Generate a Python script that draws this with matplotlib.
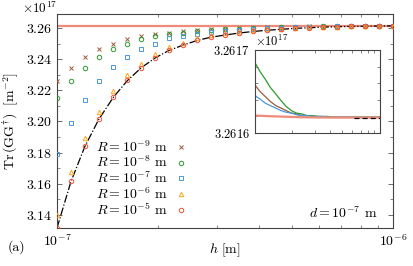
import numpy as np
import matplotlib
matplotlib.use("Agg")
import matplotlib.pyplot as plt
from matplotlib.ticker import ScalarFormatter, MultipleLocator, LogLocator, NullFormatter

plt.rcParams["font.family"] = "serif"
plt.rcParams["font.serif"] = ["cmr10"]
plt.rcParams["mathtext.fontset"] = "cm"
plt.rcParams["axes.formatter.use_mathtext"] = True
plt.rcParams["axes.unicode_minus"] = False

scale = 1e17

# h grid [m]
h = np.array([1.00, 1.10, 1.21, 1.33, 1.47, 1.62, 1.78, 1.96, 2.15, 2.37, 2.61, 2.87, 3.16,
              3.48, 3.83, 4.22, 4.64, 5.11, 5.62, 6.19, 6.81, 7.50, 8.25, 9.09, 10.0]) * 1e-7

# Tr(GG^dagger) in units of 1e17 m^-2
r_9 = [3.2261, 3.2347, 3.2415, 3.2465, 3.2501, 3.2529, 3.2550, 3.2566, 3.2572, 3.2583, 3.2589, 3.2593, 3.2598,
       3.2602, 3.2605, 3.2608, 3.2610, 3.2612, 3.2613, 3.2614, 3.2615, 3.2615, 3.2616, 3.2616, 3.2616]
r_8 = [3.2154, 3.2261, 3.2347, 3.2415, 3.2465, 3.2501, 3.2529, 3.2550, 3.2561, 3.2572, 3.2583, 3.2587, 3.2593,
       3.2598, 3.2602, 3.2605, 3.2608, 3.2610, 3.2612, 3.2613, 3.2614, 3.2615, 3.2615, 3.2616, 3.2616]
r_7 = [3.1788, 3.1990, 3.2141, 3.2261, 3.2353, 3.2418, 3.2469, 3.2501, 3.2536, 3.2551, 3.2566, 3.2579, 3.2586,
       3.2592, 3.2597, 3.2601, 3.2605, 3.2608, 3.2610, 3.2612, 3.2613, 3.2614, 3.2615, 3.2615, 3.2616]
r_6 = [3.1400, 3.1674, 3.1893, 3.2063, 3.2196, 3.2299, 3.2373, 3.2432, 3.2480, 3.2508, 3.2540, 3.2557, 3.2569,
       3.2579, 3.2587, 3.2593, 3.2598, 3.2603, 3.2606, 3.2609, 3.2612, 3.2613, 3.2614, 3.2615, 3.2616]
r_5 = [3.1316, 3.1615, 3.1840, 3.2014, 3.2157, 3.2265, 3.2347, 3.2411, 3.2458, 3.2493, 3.2523, 3.2544, 3.2558,
       3.2571, 3.2581, 3.2588, 3.2594, 3.2600, 3.2604, 3.2608, 3.2611, 3.2613, 3.2614, 3.2615, 3.2616]
plane = [3.1314, 3.1612, 3.1838, 3.2012, 3.2155, 3.2264, 3.2346, 3.2410, 3.2457, 3.2492, 3.2522, 3.2543, 3.2557,
         3.2570, 3.2580, 3.2588, 3.2594, 3.2600, 3.2604, 3.2608, 3.2611, 3.2613, 3.2614, 3.2615, 3.2616]
asym = 3.261619

# inset curves
in_9 = [3.261658, 3.261650, 3.261644, 3.261638, 3.261633, 3.261630, 3.261627, 3.261624, 3.261623, 3.261621,
        3.261621, 3.261620, 3.261620, 3.261619, 3.261619, 3.261619, 3.261619, 3.261619, 3.261619, 3.261619,
        3.261619, 3.261619, 3.261619, 3.261619, 3.261619]
in_8 = [3.261685, 3.261674, 3.261665, 3.261655, 3.261647, 3.261639, 3.261632, 3.261627, 3.261624, 3.261623,
        3.261621, 3.261621, 3.261620, 3.261620, 3.261620, 3.261619, 3.261619, 3.261619, 3.261619, 3.261619,
        3.261619, 3.261619, 3.261619, 3.261619, 3.261619]
in_7 = [3.261645, 3.261641, 3.261636, 3.261633, 3.261630, 3.261627, 3.261625, 3.261624, 3.261622, 3.261621,
        3.261621, 3.261620, 3.261620, 3.261620, 3.261619, 3.261619, 3.261619, 3.261619, 3.261619, 3.261619,
        3.261619, 3.261619, 3.261619, 3.261619, 3.261619]
in_5 = [3.2616210, 3.2616208, 3.2616205, 3.2616202, 3.2616200, 3.2616198, 3.2616196, 3.2616194, 3.2616192,
        3.2616190, 3.2616189, 3.2616188, 3.2616187, 3.2616187, 3.2616186, 3.2616186, 3.2616186, 3.2616186,
        3.2616186, 3.2616186, 3.2616186, 3.2616186, 3.2616186, 3.2616186, 3.2616186]
in_plane = [np.nan] * 19 + [3.2616185, 3.2616185, 3.2616185, 3.2616185, 3.2616185, 3.2616185]

labels = [r"$R=10^{-9}$ m", r"$R=10^{-8}$ m", r"$R=10^{-7}$ m", r"$R=10^{-6}$ m", r"$R=10^{-5}$ m"]
colors = ["#9b5a3c", "#2f9a2f", "#4a98dc", "#ffa41c", "#f0503c"]
markers = ["x", "o", "s", "^", "o"]

fig = plt.figure(figsize=(4.13, 2.66), dpi=100)
ax = fig.add_axes([0.138, 0.143, 0.814, 0.804])

ax.axhline(asym * scale, color="#f08a78", lw=1.6, zorder=1)
ax.plot(h, np.array(plane) * scale, color="black", ls="-.", lw=0.9, zorder=2)
for ys, c, m, lab in zip([r_9, r_8, r_7, r_6, r_5], colors, markers, labels):
    ax.plot(h, np.array(ys) * scale, ls="none", marker=m, ms=3.2, mew=0.7, mfc="none", mec=c,
            label=lab, zorder=3)

ax.set_xscale("log")
ax.set_xlim(1e-7, 1e-6)
ax.set_ylim(3.1314 * scale, 3.2692 * scale)
ax.yaxis.set_major_locator(MultipleLocator(0.02 * scale))
ax.yaxis.set_minor_locator(MultipleLocator(0.01 * scale))
fmt = ScalarFormatter(useMathText=True)
fmt.set_useOffset(False)
fmt.set_powerlimits((0, 0))
ax.yaxis.set_major_formatter(fmt)
ax.yaxis.get_offset_text().set_visible(False)
fig.text(22 / 413, 0.997, r"$\times10^{17}$", ha="left", va="top", fontsize=9.5)
ax.xaxis.set_minor_locator(LogLocator(base=10, subs=np.arange(2, 10)))
ax.xaxis.set_minor_formatter(NullFormatter())
ax.tick_params(which="both", direction="in", top=True, right=True, labelsize=10, color="#555555")
ax.tick_params(which="major", length=3.5, width=0.6)
ax.tick_params(which="minor", length=2, width=0.5)
for s in ax.spines.values():
    s.set_color("#444444")
    s.set_linewidth(0.8)

ax.set_xlabel(r"$h\ [\mathrm{m}]$", fontsize=10)
ax.xaxis.set_label_coords(0.5, -0.065)
ax.set_ylabel(r"$\mathrm{Tr}\,(\mathrm{GG}^{\dagger})\ \ [\mathrm{m}^{-2}]$", fontsize=10, labelpad=4)

ax.legend(loc="center left", bbox_to_anchor=(0.117, 0.231), frameon=False, markerfirst=False,
          fontsize=10, handlelength=0.8, handletextpad=0.5, labelspacing=0.0, borderpad=0, borderaxespad=0)
ax.text(0.955, 0.07, r"$d=10^{-7}$ m", transform=ax.transAxes, ha="right", va="center", fontsize=10)
fig.text(0.039, 0.071, "(a)", ha="center", va="center", fontsize=10)

# inset
axi = fig.add_axes([0.617, 0.5, 0.303, 0.312])
for ys, c in zip([in_9, in_8, in_7], colors[:3]):
    axi.plot(h, np.array(ys) * scale, color=c, lw=0.9)
axi.plot(h, np.array(in_5) * scale, color="#f08a78", lw=1.6)
axi.plot(h, np.array(in_plane) * scale, color="black", ls=(0, (4, 2.5)), lw=0.9)
axi.set_xscale("log")
axi.set_xlim(1e-7, 1e-6)
axi.set_ylim(3.2616 * scale, 3.2617 * scale)
axi.yaxis.set_major_locator(MultipleLocator(0.0001 * scale))
axi.yaxis.set_minor_locator(MultipleLocator(0.00002 * scale))
fmti = ScalarFormatter(useMathText=True)
fmti.set_useOffset(False)
fmti.set_powerlimits((0, 0))
axi.yaxis.set_major_formatter(fmti)
axi.yaxis.get_offset_text().set_fontsize(9)
axi.xaxis.set_minor_locator(LogLocator(base=10, subs=np.arange(2, 10)))
axi.xaxis.set_minor_formatter(NullFormatter())
axi.tick_params(which="both", direction="in", top=True, right=True, labelsize=9, color="#555555")
axi.tick_params(axis="x", which="both", labelbottom=False)
axi.tick_params(which="major", length=3, width=0.6)
axi.tick_params(which="minor", length=2, width=0.5)
for s in axi.spines.values():
    s.set_color("#444444")
    s.set_linewidth(0.8)

fig.savefig("out.png", dpi=100)
